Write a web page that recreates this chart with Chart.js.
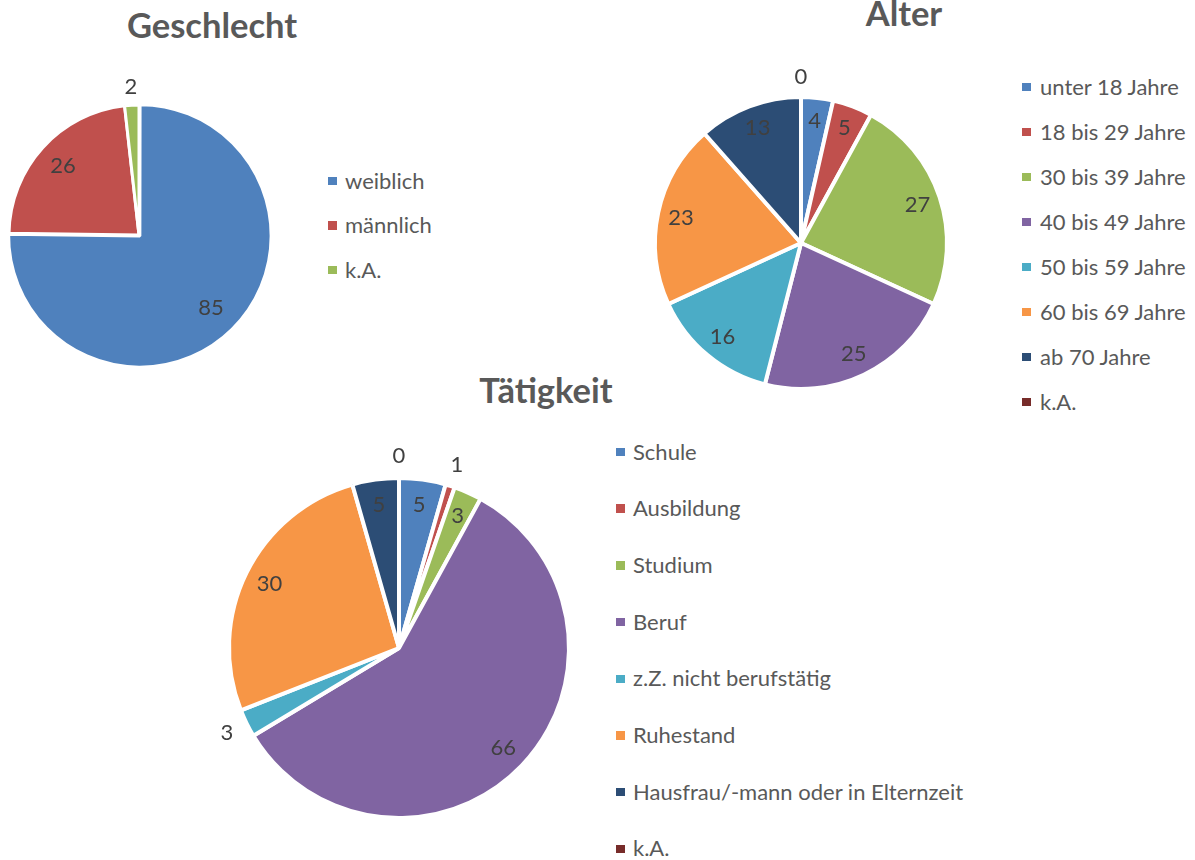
<!DOCTYPE html>
<html>
<head>
<meta charset="utf-8">
<script src="https://cdn.jsdelivr.net/npm/chart.js@4.4.1/dist/chart.umd.min.js"></script>
<style>
  html, body { margin: 0; padding: 0; background: #ffffff; }
  body { width: 1195px; height: 860px; position: relative; overflow: hidden; font-family: Lato, "Open Sans", sans-serif; }
  .title { position: absolute; font-weight: bold; font-size: 34.5px; line-height: 34.5px; color: #595959; white-space: nowrap; transform: translateX(-50%); }
  .leg { position: absolute; font-size: 22px; line-height: 22px; color: #595959; white-space: nowrap; }
  .sq { position: absolute; width: 8.5px; height: 8.5px; }
  .wrap { position: absolute; }
</style>
</head>
<body>
<div class="wrap" id="w1" style="left:0px;top:60px;width:290px;height:350px;"><canvas id="c1" width="290" height="350"></canvas></div>
<div class="wrap" id="w2" style="left:620px;top:50px;width:360px;height:370px;"><canvas id="c2" width="360" height="370"></canvas></div>
<div class="wrap" id="w3" style="left:180px;top:430px;width:430px;height:420px;"><canvas id="c3" width="430" height="420"></canvas></div>
<div id="overlay"></div>
<script>
// ---- Data ----
const genderTitle = "Geschlecht";
const genderLabels = ["weiblich", "männlich", "k.A."];
const genderValues = [85, 26, 2];

const ageTitle = "Alter";
const ageLabels = ["unter 18 Jahre", "18 bis 29 Jahre", "30 bis 39 Jahre", "40 bis 49 Jahre", "50 bis 59 Jahre", "60 bis 69 Jahre", "ab 70 Jahre", "k.A."];
const ageValues = [4, 5, 27, 25, 16, 23, 13, 0];

const jobTitle = "Tätigkeit";
const jobLabels = ["Schule", "Ausbildung", "Studium", "Beruf", "z.Z. nicht berufstätig", "Ruhestand", "Hausfrau/-mann oder in Elternzeit", "k.A."];
const jobValues = [5, 1, 3, 66, 3, 30, 5, 0];

// ---- Styles ----
const palette = ["#4F81BD", "#C0504D", "#9BBB59", "#8064A2", "#4BACC6", "#F79646", "#2C4D75", "#772C2A"];

const sliceLabels = {
  id: 'sliceLabels',
  afterDatasetsDraw(chart, args, opts) {
    const ctx = chart.ctx;
    const meta = chart.getDatasetMeta(0);
    const vals = chart.data.datasets[0].data;
    ctx.save();
    ctx.font = '22px Lato, "Open Sans", sans-serif';
    ctx.fillStyle = '#404040';
    ctx.textAlign = 'center';
    ctx.textBaseline = 'middle';
    meta.data.forEach((arc, i) => {
      const p = arc.getProps(['x', 'y', 'startAngle', 'endAngle', 'outerRadius'], true);
      const mid = (p.startAngle + p.endAngle) / 2;
      const f = opts.outside.includes(i) ? opts.outFactor : opts.inFactor;
      const x = p.x + Math.cos(mid) * p.outerRadius * f;
      const y = p.y + Math.sin(mid) * p.outerRadius * f;
      ctx.fillText(String(vals[i]), x, y);
    });
    ctx.restore();
  }
};

function makePie(id, labels, values, opt) {
  return new Chart(document.getElementById(id), {
    type: 'pie',
    data: {
      labels: labels,
      datasets: [{
        data: values,
        backgroundColor: palette.slice(0, values.length),
        borderColor: '#ffffff',
        borderWidth: opt.bw,
        hoverBorderWidth: opt.bw,
        hoverOffset: 0,
        offset: opt.offset || 0
      }]
    },
    options: {
      responsive: false,
      animation: false,
      events: [],
      layout: { padding: opt.padding },
      plugins: {
        legend: { display: false },
        tooltip: { enabled: false },
        title: { display: false },
        sliceLabels: { outside: opt.outside, inFactor: opt.inFactor, outFactor: opt.outFactor }
      }
    },
    plugins: [sliceLabels]
  });
}

makePie('c1', genderLabels, genderValues, {
  bw: 3, offset: [5, 0, 0],
  padding: { left: 5, top: 41, right: 17, bottom: 41 },
  outside: [2], inFactor: 0.79, outFactor: 1.14
});
makePie('c2', ageLabels, ageValues, {
  bw: 4,
  padding: { left: 33, top: 45, right: 31, bottom: 29 },
  outside: [7], inFactor: 0.84, outFactor: 1.14
});
makePie('c3', jobLabels, jobValues, {
  bw: 4,
  padding: { left: 47, top: 46, right: 39, bottom: 30 },
  outside: [1, 4, 7], inFactor: 0.85, outFactor: 1.13
});

// ---- Titles and legends (HTML text) ----
const overlay = document.getElementById('overlay');
function addTitle(text, cx, top) {
  const d = document.createElement('div');
  d.className = 'title';
  d.textContent = text;
  d.style.left = cx + 'px';
  d.style.top = top + 'px';
  overlay.appendChild(d);
}
function addLegend(labels, sqX, textX, firstY, step) {
  labels.forEach((lab, i) => {
    const yc = firstY + i * step;
    const s = document.createElement('div');
    s.className = 'sq';
    s.style.background = palette[i];
    s.style.left = sqX + 'px';
    s.style.top = (yc - 4.25) + 'px';
    overlay.appendChild(s);
    const t = document.createElement('div');
    t.className = 'leg';
    t.textContent = lab;
    t.style.left = textX + 'px';
    t.style.top = (yc - 11.5) + 'px';
    overlay.appendChild(t);
  });
}
addTitle(genderTitle, 212, 8);
addTitle(ageTitle, 904, -4);
addTitle(jobTitle, 546, 373);
addLegend(genderLabels, 328, 345, 181, 44.5);
addLegend(ageLabels, 1022, 1040, 87, 45);
addLegend(jobLabels, 616, 633, 452, 56.7);
</script>
</body>
</html>
